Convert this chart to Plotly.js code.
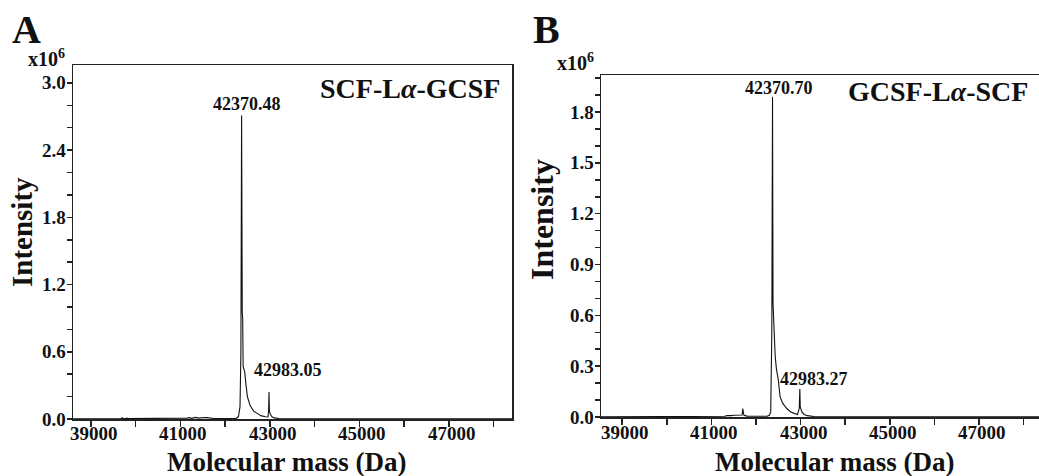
<!DOCTYPE html>
<html>
<head>
<meta charset="utf-8">
<script src="https://cdn.plot.ly/plotly-3.0.1.min.js"></script>
<style>
html,body{margin:0;padding:0;overflow:hidden;background:#fff;width:1039px;height:476px;}
#chart{width:1050px;height:476px;}
</style>
</head>
<body>
<div id="chart"></div>
<script>
// ---- Data (intensity in units of 10^6) ----
const massA = [38603, 39000, 39500, 39690, 39700, 39710, 39720, 39800, 39810, 39820, 39830, 40500, 41100, 41150, 41200, 41250, 41300, 41350, 41400, 41450, 41500, 41550, 41600, 41650, 41700, 41750, 42000, 42250, 42300, 42335, 42355, 42370.48, 42385, 42395, 42405, 42420, 42440, 42470, 42500, 42560, 42640, 42720, 42800, 42900, 42960, 42975, 42983.05, 42992, 43010, 43050, 43100, 43200, 43500, 44500, 48413];
const intensityA = [0.002, 0.002, 0.003, 0.003, 0.012, 0.003, 0.003, 0.003, 0.010, 0.003, 0.003, 0.003, 0.004, 0.008, 0.012, 0.006, 0.010, 0.014, 0.008, 0.012, 0.010, 0.014, 0.012, 0.010, 0.012, 0.005, 0.003, 0.004, 0.020, 0.110, 0.600, 2.710, 0.950, 0.900, 0.470, 0.440, 0.420, 0.300, 0.200, 0.120, 0.070, 0.050, 0.030, 0.020, 0.018, 0.080, 0.240, 0.070, 0.045, 0.020, 0.010, 0.004, 0.002, 0.001, 0.001];

const massB = [38525, 39500, 40500, 41000, 41300, 41350, 41400, 41450, 41500, 41550, 41600, 41650, 41690, 41702, 41712, 41730, 41800, 42000, 42250, 42300, 42330, 42355, 42370.70, 42382, 42392, 42410, 42430, 42460, 42500, 42540, 42600, 42690, 42780, 42870, 42930, 42970, 42983.27, 42992, 43005, 43030, 43080, 43150, 43300, 44000, 48592];
const intensityB = [0.001, 0.001, 0.002, 0.002, 0.004, 0.008, 0.006, 0.008, 0.010, 0.010, 0.012, 0.010, 0.012, 0.050, 0.015, 0.010, 0.005, 0.003, 0.004, 0.010, 0.030, 0.500, 1.890, 0.670, 0.600, 0.440, 0.360, 0.280, 0.220, 0.120, 0.080, 0.050, 0.030, 0.020, 0.015, 0.050, 0.165, 0.060, 0.050, 0.030, 0.015, 0.008, 0.003, 0.001, 0.001];

const peaksA = [42370.48, 42983.05];
const peaksB = [42370.70, 42983.27];
const peakLabelsA = ["42370.48", "42983.05"];
const peakLabelsB = ["42370.70", "42983.27"];

const xTickVals = [39000, 40000, 41000, 42000, 43000, 44000, 45000, 46000, 47000, 48000];
const xTickText = ["39000", "", "41000", "", "43000", "", "45000", "", "47000", ""];
const yTickValsA = [0, 0.2, 0.4, 0.6, 0.8, 1.0, 1.2, 1.4, 1.6, 1.8, 2.0, 2.2, 2.4, 2.6, 2.8, 3.0];
const yTickTextA = ["0.0", "", "", "0.6", "", "", "1.2", "", "", "1.8", "", "", "2.4", "", "", "3.0"];
const yTickValsB = [0, 0.1, 0.2, 0.3, 0.4, 0.5, 0.6, 0.7, 0.8, 0.9, 1.0, 1.1, 1.2, 1.3, 1.4, 1.5, 1.6, 1.7, 1.8, 1.9, 2.0];
const yTickTextB = ["0.0", "", "", "0.3", "", "", "0.6", "", "", "0.9", "", "", "1.2", "", "", "1.5", "", "", "1.8", "", ""];

const panelNames = ["SCF-L<i>α</i>-GCSF", "GCSF-L<i>α</i>-SCF"];
const xTitle = "Molecular mass (Da)";
const yTitle = "Intensity";

// ---- Layout ----
const W = 1050, H = 476;
const fx = p => p / W;
const fy = p => 1 - p / H;
const FAM = "Liberation Serif, Times New Roman, serif";
const tickFont = {family: FAM, size: 19, color: "#111", weight: "bold"};

const rangeXA = [38603, 48413], rangeXB = [38525, 48592];
const rangeYA = [0, 3.16], rangeYB = [0, 2.019];

function xAxis(domain, range, anchor) {
  return {
    domain: domain, range: range, anchor: anchor,
    tickmode: "array", tickvals: xTickVals, ticktext: xTickText, showticklabels: false,
    ticks: "outside", ticklen: 6, tickwidth: 1.5, tickcolor: "#222",
    showline: true, linewidth: 1.5, linecolor: "#222", mirror: true,
    showgrid: false, zeroline: false, tickfont: tickFont
  };
}
function yAxis(domain, range, anchor, vals, text) {
  return {
    domain: domain, range: range, anchor: anchor,
    tickmode: "array", tickvals: vals, ticktext: text, showticklabels: false,
    ticks: "outside", ticklen: 5, tickwidth: 1.5, tickcolor: "#222",
    showline: true, linewidth: 1.5, linecolor: "#222", mirror: true,
    showgrid: false, zeroline: false, tickfont: tickFont
  };
}

const traces = [
  {x: massA, y: intensityA, xaxis: "x", yaxis: "y", type: "scatter", mode: "lines",
   line: {color: "#111", width: 1.1}, hoverinfo: "x+y"},
  {x: massB, y: intensityB, xaxis: "x2", yaxis: "y2", type: "scatter", mode: "lines",
   line: {color: "#111", width: 1.1}, hoverinfo: "x+y"}
];

const lblFont = {family: FAM, size: 18, color: "#111", weight: "bold"};
const annotations = [
  {xref: "paper", yref: "paper", x: fx(10), y: fy(29), xanchor: "left", yanchor: "middle", text: "A", showarrow: false,
   font: {family: FAM, size: 40, color: "#111", weight: "bold"}},
  {xref: "paper", yref: "paper", x: fx(531), y: fy(29), xanchor: "left", yanchor: "middle", text: "B", showarrow: false,
   font: {family: FAM, size: 40, color: "#111", weight: "bold"}},
  {xref: "paper", yref: "paper", x: fx(26), y: fy(72), xanchor: "left", yanchor: "bottom", text: "x10<sup>6</sup>", showarrow: false,
   font: {family: FAM, size: 20, color: "#111", weight: "bold"}},
  {xref: "paper", yref: "paper", x: fx(555), y: fy(76), xanchor: "left", yanchor: "bottom", text: "x10<sup>6</sup>", showarrow: false,
   font: {family: FAM, size: 20, color: "#111", weight: "bold"}},
  {xref: "paper", yref: "paper", x: fx(22), y: fy(232), xanchor: "center", yanchor: "middle", textangle: -90, text: yTitle, showarrow: false,
   font: {family: FAM, size: 29, color: "#111", weight: "bold"}},
  {xref: "paper", yref: "paper", x: fx(542), y: fy(220), xanchor: "center", yanchor: "middle", textangle: -90, text: yTitle, showarrow: false,
   font: {family: FAM, size: 32, color: "#111", weight: "bold"}},
  {xref: "paper", yref: "paper", x: fx(286), y: fy(462), xanchor: "center", yanchor: "middle", text: xTitle, showarrow: false,
   font: {family: FAM, size: 27, color: "#111", weight: "bold"}},
  {xref: "paper", yref: "paper", x: fx(834), y: fy(462), xanchor: "center", yanchor: "middle", text: xTitle, showarrow: false,
   font: {family: FAM, size: 27, color: "#111", weight: "bold"}},
  {xref: "paper", yref: "paper", x: fx(502), y: fy(88), xanchor: "right", yanchor: "middle", text: panelNames[0], showarrow: false,
   font: {family: FAM, size: 28, color: "#111", weight: "bold"}},
  {xref: "paper", yref: "paper", x: fx(846), y: fy(91), xanchor: "left", yanchor: "middle", text: panelNames[1], showarrow: false,
   font: {family: FAM, size: 28, color: "#111", weight: "bold"}},
  {xref: "x", yref: "y", x: peaksA[0], y: intensityA[massA.indexOf(peaksA[0])], xanchor: "center", yanchor: "bottom", xshift: 5, yshift: -1,
   text: peakLabelsA[0], showarrow: false, font: lblFont},
  {xref: "x", yref: "y", x: peaksA[1], y: intensityA[massA.indexOf(peaksA[1])], xanchor: "left", yanchor: "middle", xshift: -17, yshift: 22,
   text: peakLabelsA[1], showarrow: false, font: lblFont},
  {xref: "x2", yref: "y2", x: peaksB[0], y: intensityB[massB.indexOf(peaksB[0])], xanchor: "center", yanchor: "bottom", xshift: 6, yshift: -3,
   text: peakLabelsB[0], showarrow: false, font: lblFont},
  {xref: "x2", yref: "y2", x: peaksB[1], y: intensityB[massB.indexOf(peaksB[1])], xanchor: "left", yanchor: "middle", xshift: -22, yshift: 10,
   text: peakLabelsB[1], showarrow: false, font: lblFont}
];

// tick labels placed on the axes' own scales
xTickVals.forEach((v, i) => {
  if (!xTickText[i]) return;
  annotations.push({xref: "x", yref: "paper", x: v, y: fy(433), xanchor: "center", yanchor: "middle", text: xTickText[i], showarrow: false, font: tickFont, xshift: 3});
  annotations.push({xref: "x2", yref: "paper", x: v, y: fy(432), xanchor: "center", yanchor: "middle", text: xTickText[i], showarrow: false, font: tickFont, xshift: 3});
});
yTickValsA.forEach((v, i) => {
  if (!yTickTextA[i]) return;
  annotations.push({xref: "paper", yref: "y", x: fx(68), y: v, xanchor: "right", yanchor: "middle", text: yTickTextA[i], showarrow: false, font: tickFont});
});
yTickValsB.forEach((v, i) => {
  if (!yTickTextB[i]) return;
  annotations.push({xref: "paper", yref: "y2", x: fx(596), y: v, xanchor: "right", yanchor: "middle", text: yTickTextB[i], showarrow: false, font: tickFont});
});

const layout = {
  width: W, height: H,
  margin: {l: 0, r: 0, t: 0, b: 0},
  paper_bgcolor: "#fff", plot_bgcolor: "#fff",
  showlegend: false,
  xaxis: xAxis([fx(73), fx(512)], rangeXA, "y"),
  yaxis: yAxis([fy(419), fy(65)], rangeYA, "x", yTickValsA, yTickTextA),
  xaxis2: xAxis([fx(601), 1], rangeXB, "y2"),
  yaxis2: yAxis([fy(417), fy(75)], rangeYB, "x2", yTickValsB, yTickTextB),
  annotations: annotations
};

Plotly.newPlot("chart", traces, layout, {displayModeBar: false, staticPlot: true});
</script>
</body>
</html>
